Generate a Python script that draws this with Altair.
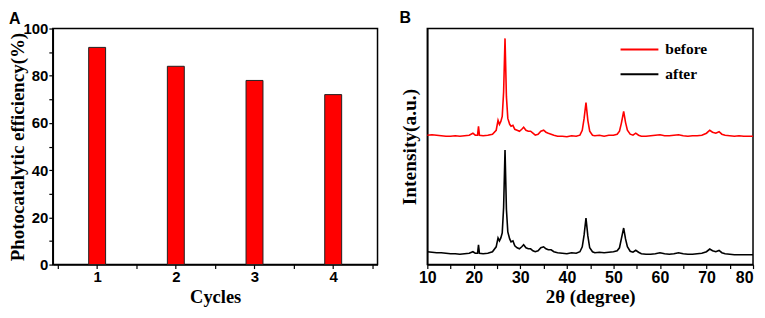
import altair as alt
import pandas as pd

# ---- Panel A data ----
cycles = [1, 2, 3, 4]
efficiency = [92, 84, 78, 72]

# ---- Panel B data (XRD patterns, offset intensities, a.u.) ----
two_theta = [10, 11, 12, 13, 14, 15, 16, 17, 18, 19, 19.8, 20.3, 20.8, 21.0, 21.2, 22, 23, 24,
             24.8, 25.2, 25.5, 25.8, 26.1, 26.4, 26.7, 27.0, 27.3, 27.7, 28.0, 28.4, 28.8, 29.3,
             29.8, 30.3, 30.7, 31.2, 31.7, 32.2, 32.7, 33.2, 33.8, 34.4, 35.0, 35.5, 36.0, 36.6,
             37.2, 38, 39, 40, 41, 42, 42.8, 43.3, 43.7, 44.1, 44.5, 44.9, 45.5, 46, 47, 48, 49,
             50, 50.8, 51.3, 51.7, 52.2, 52.6, 53.0, 53.6, 54.2, 54.8, 55.4, 56, 57, 58, 59, 60,
             61, 62, 63, 64, 65, 66, 67, 68, 69, 70, 70.7, 71.3, 72, 72.7, 73.3, 74, 75, 76, 77,
             78, 79, 80]
before = [131, 131.5, 131, 130.5, 130, 130, 130.5, 130, 130.5, 131, 133, 131, 131, 140, 131, 130.5,
          131, 132, 136, 146, 142, 145, 150, 175, 229, 170, 148, 142, 140, 141, 137, 136, 135, 137,
          139, 136, 135, 135, 133, 131, 132, 135, 136, 134, 133, 132, 131, 130, 130, 129.5, 130.5,
          130, 131, 136, 148, 164, 146, 135, 131, 130.5, 131, 130, 131, 131, 132, 135, 143, 155,
          144, 136, 132, 131, 133, 131, 130, 130, 130.5, 131, 131.5, 130.5, 130.5, 131, 131.5,
          130.5, 130, 130.5, 130.5, 131, 133, 136, 134, 133, 134.5, 132, 131, 130.5, 130, 130.5,
          130, 130, 130]
after = [13, 12.5, 12, 12, 11.5, 11, 11, 10.5, 11, 11.5, 13, 11.5, 11.5, 20, 11.5, 11, 11.5, 13,
         18, 27, 24, 27, 32, 58, 116, 56, 33, 26, 23, 24, 19, 17, 16, 18, 20, 17, 16, 16, 14, 13,
         14, 17, 18, 16, 15, 15, 13, 12, 11.5, 11, 12, 11.5, 13, 18, 30, 47, 29, 17, 13, 12, 12.5,
         12, 12.5, 13, 14, 17, 26, 37, 26, 18, 13.5, 12.5, 14.5, 12.5, 11, 10.5, 10.5, 11, 12, 11,
         10.5, 11, 12, 11, 10.5, 10.5, 11, 11.5, 13, 15.7, 14, 13, 14.3, 12, 11, 10.5, 10, 10, 10,
         10, 10]
series_names = ["before", "after"]
series_colors = ["#ff0000", "#000000"]

dfA = pd.DataFrame({"cycle": cycles, "eff": efficiency})
dfB = pd.concat([
    pd.DataFrame({"theta": two_theta, "inten": before, "sample": "before", "order": range(len(two_theta))}),
    pd.DataFrame({"theta": two_theta, "inten": after, "sample": "after", "order": range(len(two_theta))}),
])

LABEL_FONT = "Liberation Sans"
TITLE_FONT = "Liberation Serif"

chartA = alt.Chart(dfA).mark_bar(
    color="#ff0000", stroke="#202020", strokeWidth=1, size=17
).encode(
    x=alt.X("cycle:Q", scale=alt.Scale(domain=[0.5, 4.5], nice=False),
            axis=alt.Axis(title="Cycles", values=[0.5, 1, 1.5, 2, 2.5, 3, 3.5, 4, 4.5],
                          labelExpr="datum.value % 1 == 0 ? format(datum.value, 'd') : ''",
                          tickSize=4, labelPadding=1, titlePadding=3,
                          labelFontSize=15, titleFontSize=18.5)),
    y=alt.Y("eff:Q", scale=alt.Scale(domain=[0, 100], nice=False),
            axis=alt.Axis(title="Photocatalytic efficiency(%)",
                          values=[0, 10, 20, 30, 40, 50, 60, 70, 80, 90, 100],
                          labelExpr="datum.value % 20 == 0 ? datum.label : ''",
                          tickSize=4, labelPadding=1, titlePadding=-5,
                          labelFontSize=15, titleFontSize=19)),
).properties(
    width=326, height=237,
    title=alt.TitleParams("A", anchor="start", frame="bounds", font=LABEL_FONT,
                          fontSize=16, fontWeight="bold", offset=-5, color="black"),
)

chartB = alt.Chart(dfB).mark_line(strokeWidth=1.6).encode(
    x=alt.X("theta:Q", scale=alt.Scale(domain=[10, 80], nice=False),
            axis=alt.Axis(title="2θ (degree)", values=list(range(10, 81, 5)),
                          labelExpr="datum.value % 10 == 0 ? datum.label : ''",
                          labelAlign={"condition": {"test": "datum.value == 80", "value": "right"},
                                      "value": "center"},
                          tickSize=4, labelPadding=1, titlePadding=2,
                          labelFontSize=16, titleFontSize=19)),
    y=alt.Y("inten:Q", scale=alt.Scale(domain=[0, 239], nice=False),
            axis=alt.Axis(title="Intensity(a.u.)", labels=False, ticks=False, titlePadding=8,
                          titleFontSize=19.5)),
    color=alt.Color("sample:N", scale=alt.Scale(domain=series_names, range=series_colors),
                    legend=alt.Legend(title=None, orient="none", legendX=578, legendY=10,
                                      symbolType="M-1.9,0H1.9", symbolSize=400,
                                      symbolStrokeWidth=2, labelOffset=15, rowPadding=5,
                                      labelFont=TITLE_FONT, labelFontSize=15.5,
                                      labelFontWeight="bold", labelColor="black", padding=0)),
    detail="sample:N",
    order="order:Q",
).properties(
    width=327, height=237,
    title=alt.TitleParams("B", anchor="start", frame="bounds", font=LABEL_FONT,
                          fontSize=16, fontWeight="bold", offset=2.5, color="black"),
)

chart = alt.hconcat(chartA, chartB, spacing=20).properties(
    padding={"left": 0, "top": 0, "right": 0, "bottom": 0}
).configure_view(
    stroke="black", strokeWidth=1.5
).configure_axis(
    grid=False, domainColor="black", domainWidth=1.5, tickColor="black", tickWidth=1.2,
    labelFont=LABEL_FONT, labelFontWeight="bold", labelColor="black",
    titleFont=TITLE_FONT, titleFontWeight="bold", titleColor="black",
)

chart.save("out.html", embed_options={"renderer": "svg", "actions": False})
